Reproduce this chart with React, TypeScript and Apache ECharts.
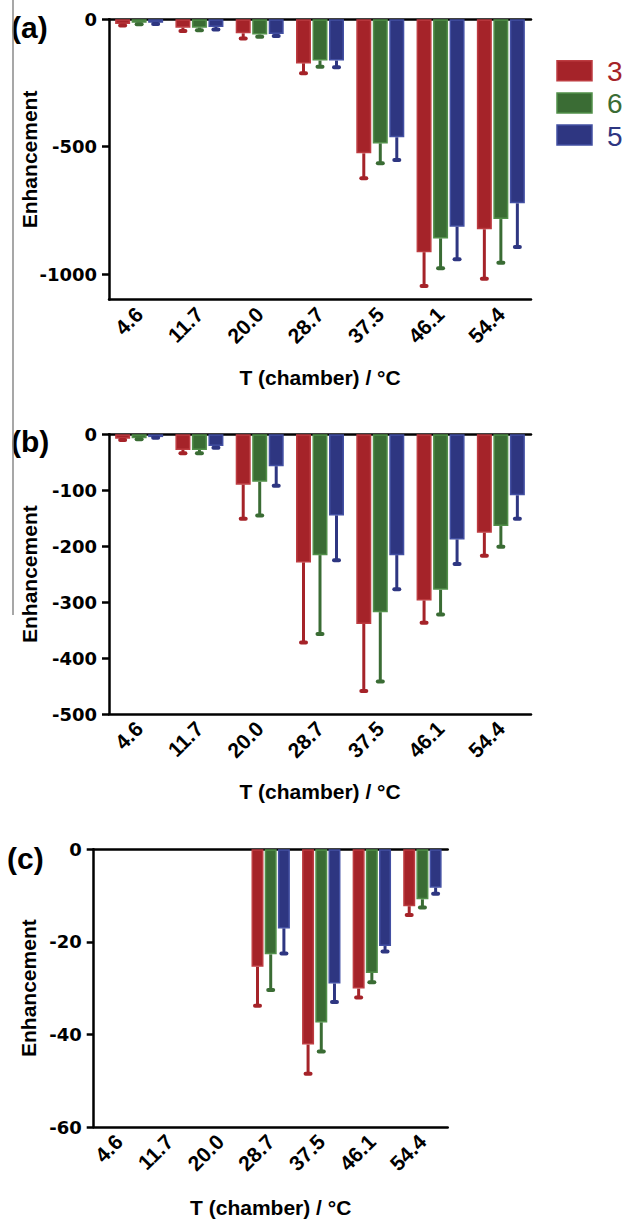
import React, { useEffect, useRef } from "react";
import * as echarts from "echarts";

// ---------- data ----------
const CATEGORIES = ["4.6", "11.7", "20.0", "28.7", "37.5", "46.1", "54.4"];
const SERIES_NAMES = ["3", "6", "5"];

// panel (a)
const A_S3 = [-18, -33, -55, -173, -526, -914, -824];
const A_S3_ERR = [6, 13, 20, 39, 98, 133, 194];
const A_S6 = [-14, -33, -60, -162, -487, -860, -784];
const A_S6_ERR = [5, 10, 8, 24, 78, 117, 171];
const A_S5 = [-14, -30, -58, -162, -463, -814, -722];
const A_S5_ERR = [4, 10, 8, 26, 89, 128, 172];
const A_TICKS = [0, -500, -1000];

// panel (b)
const B_S3 = [-8, -28, -90, -229, -339, -297, -176];
const B_S3_ERR = [2, 6, 61, 143, 120, 40, 41];
const B_S6 = [-7, -28, -85, -216, -318, -278, -164];
const B_S6_ERR = [2, 6, 60, 141, 124, 44, 37];
const B_S5 = [-5, -21, -57, -145, -216, -188, -109];
const B_S5_ERR = [1, 3, 35, 80, 61, 44, 42];

// panel (c)
const C_S3 = [null, null, null, -25.4, -42.2, -30.1, -12.3];
const C_S3_ERR = [null, null, null, 8.4, 6.3, 1.9, 1.9];
const C_S6 = [null, null, null, -22.7, -37.4, -26.7, -10.8];
const C_S6_ERR = [null, null, null, 7.7, 6.3, 2.0, 1.8];
const C_S5 = [null, null, null, -17.1, -29.0, -20.9, -8.3];
const C_S5_ERR = [null, null, null, 5.4, 4.0, 1.2, 1.3];

const PANEL_LABELS = ["(a)", "(b)", "(c)"];
const X_TITLE = "T (chamber) / °C";
const Y_TITLE = "Enhancement";

// ---------- styles ----------
const FILL = ["#a52329", "#3a6c34", "#2e3681"];
const EDGE = ["#bd3c41", "#52904a", "#4350a3"];
const FONT = "'Liberation Sans', Arial, Helvetica, sans-serif";
const TICK_FONT = "'DejaVu Sans', Verdana, sans-serif";

const PANELS = [
  {
    label: PANEL_LABELS[0],
    grid: { left: 109, top: 19.3, width: 422, height: 280.3 },
    min: -1100, interval: 100, custom: A_TICKS,
    vals: [A_S3, A_S6, A_S5], errs: [A_S3_ERR, A_S6_ERR, A_S5_ERR],
    barWidth: 15, nameGapY: 69, nameGapX: 67, labelPos: [11, 12],
  },
  {
    label: PANEL_LABELS[1],
    grid: { left: 109, top: 434.3, width: 422, height: 279.7 },
    min: -500, interval: 100, custom: null,
    vals: [B_S3, B_S6, B_S5], errs: [B_S3_ERR, B_S6_ERR, B_S5_ERR],
    barWidth: 15, nameGapY: 69, nameGapX: 67, labelPos: [11, 426],
  },
  {
    label: PANEL_LABELS[2],
    grid: { left: 93.7, top: 849.3, width: 354, height: 279.4 },
    min: -60, interval: 20, custom: null,
    vals: [C_S3, C_S6, C_S5], errs: [C_S3_ERR, C_S6_ERR, C_S5_ERR],
    barWidth: 12, nameGapY: 55, nameGapX: 70, labelPos: [7, 843],
  },
];

export default function App() {
  const ref = useRef<HTMLDivElement>(null);

  useEffect(() => {
    if (!ref.current) return;
    const chart = echarts.init(ref.current, undefined, { renderer: "svg" });

    const grids: any[] = [];
    const xAxes: any[] = [];
    const yAxes: any[] = [];
    const series: any[] = [];
    const graphics: any[] = [];

    const axisLineStyle = { color: "#000", width: 2.5 };

    PANELS.forEach((p, pi) => {
      grids.push({ ...p.grid, containLabel: false });
      // bottom category axis
      xAxes.push({
        type: "category",
        gridIndex: pi,
        data: CATEGORIES,
        position: "bottom",
        axisLine: { onZero: false, lineStyle: axisLineStyle },
        axisTick: { alignWithLabel: true, length: 7, lineStyle: axisLineStyle },
        axisLabel: {
          rotate: 45, margin: 11, color: "#000", fontWeight: "bold",
          fontSize: 21, fontFamily: FONT,
        },
        name: X_TITLE,
        nameLocation: "middle",
        nameGap: p.nameGapX,
        nameMoveOverlap: false,
        nameTextStyle: { color: "#000", fontWeight: "bold", fontSize: 21, fontFamily: FONT },
      });
      // top zero line
      xAxes.push({
        type: "category",
        gridIndex: pi,
        data: CATEGORIES,
        position: "top",
        axisLine: { onZero: false, lineStyle: axisLineStyle },
        axisTick: { show: false },
        axisLabel: { show: false },
      });
      const yAxis: any = {
        type: "value",
        gridIndex: pi,
        min: p.min,
        max: 0,
        interval: p.interval,
        splitLine: { show: false },
        axisLine: { show: true, onZero: false, lineStyle: axisLineStyle },
        axisTick: { show: true, length: 7, lineStyle: axisLineStyle },
        axisLabel: {
          margin: 12, color: "#000", fontWeight: "bold", fontSize: 18,
          fontFamily: TICK_FONT, formatter: (v: number) => String(v),
        },
        name: Y_TITLE,
        nameLocation: "middle",
        nameGap: p.nameGapY,
        nameRotate: 90,
        nameMoveOverlap: false,
        nameTextStyle: { color: "#000", fontWeight: "bold", fontSize: 21, fontFamily: FONT },
      };
      if (p.custom) {
        yAxis.axisTick.customValues = p.custom;
        yAxis.axisLabel.customValues = p.custom;
      }
      yAxes.push(yAxis);

      const gapPx = p.barWidth * 0.1;
      SERIES_NAMES.forEach((name, si) => {
        series.push({
          type: "bar",
          name,
          xAxisIndex: pi * 2,
          yAxisIndex: pi,
          data: p.vals[si],
          barWidth: p.barWidth,
          barGap: "10%",
          itemStyle: { color: FILL[si], borderColor: EDGE[si], borderWidth: 1.5 },
          z: 2,
        });
      });
      SERIES_NAMES.forEach((name, si) => {
        const off = (si - 1) * (p.barWidth + gapPx);
        const color = FILL[si];
        const data: any[] = [];
        p.vals[si].forEach((v: any, i: number) => {
          if (v !== null && p.errs[si][i] !== null) data.push([i, v, p.errs[si][i]]);
        });
        series.push({
          type: "custom",
          name: name + " err",
          xAxisIndex: pi * 2,
          yAxisIndex: pi,
          data,
          encode: { x: 0, y: 1 },
          z: 3,
          renderItem: (params: any, api: any) => {
            const idx = api.value(0);
            const v = api.value(1);
            const e = api.value(2);
            const p0 = api.coord([idx, v]);
            const p1 = api.coord([idx, v - e]);
            const x = p0[0] + off;
            return {
              type: "group",
              children: [
                {
                  type: "line",
                  shape: { x1: x, y1: p0[1], x2: x, y2: p1[1] },
                  style: { stroke: color, lineWidth: 3 },
                },
                {
                  type: "rect",
                  shape: { x: x - 4.5, y: p1[1] - 2, width: 9, height: 4, r: 2 },
                  style: { fill: color },
                },
              ],
            };
          },
        });
      });

      graphics.push({
        type: "text",
        left: p.labelPos[0],
        top: p.labelPos[1],
        style: { text: p.label, fill: "#000", font: `bold 30px ${FONT}` },
      });
    });

    // thin grey line at the left edge
    graphics.push({
      type: "line",
      shape: { x1: 13, y1: 0, x2: 13, y2: 615 },
      style: { stroke: "#8a8a8a", lineWidth: 1.5 },
    });

    // legend
    SERIES_NAMES.forEach((name, si) => {
      const top = 60.7 + si * 32.2;
      graphics.push({
        type: "rect",
        shape: { x: 557, y: top, width: 35, height: 20 },
        style: { fill: FILL[si], stroke: EDGE[si], lineWidth: 1.5 },
      });
      graphics.push({
        type: "text",
        x: 607,
        y: top + 11,
        style: {
          text: name, fill: FILL[si], font: `28px ${FONT}`,
          verticalAlign: "middle", align: "left",
        },
      });
    });

    chart.setOption({
      animation: false,
      backgroundColor: "#fff",
      grid: grids,
      xAxis: xAxes,
      yAxis: yAxes,
      series,
      graphic: graphics,
    });

    return () => chart.dispose();
  }, []);

  return (
    <div
      ref={ref}
      style={{ position: "absolute", left: 0, top: 0, width: 622, height: 1219 }}
    />
  );
}
